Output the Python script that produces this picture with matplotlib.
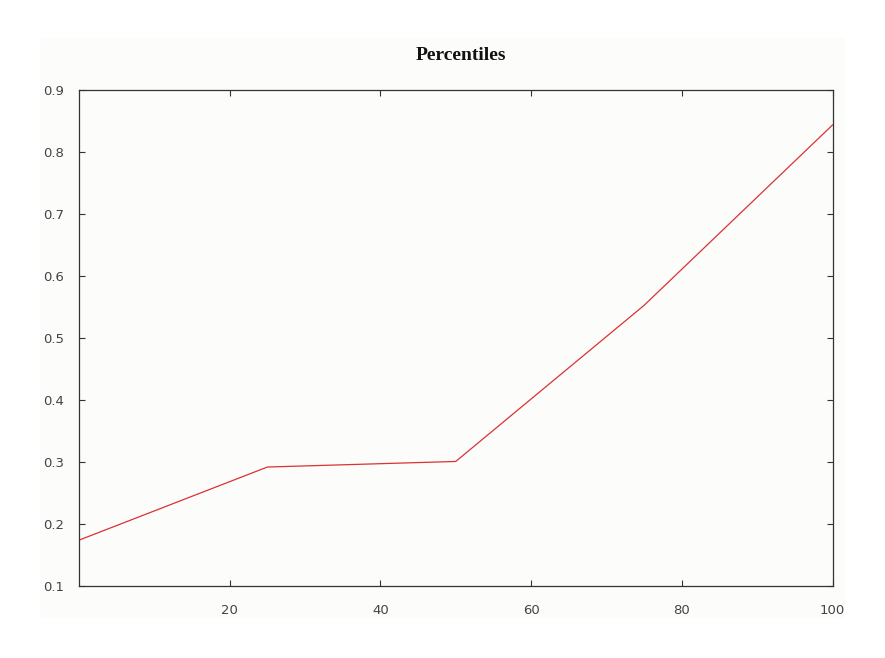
import matplotlib
matplotlib.use("Agg")
import matplotlib.pyplot as plt
from matplotlib.patches import Rectangle

# Values
percentiles = [0, 25, 50, 75, 100]
values = [0.174, 0.292, 0.301, 0.553, 0.844]
x_ticks = [20, 40, 60, 80, 100]
y_ticks = [0.1, 0.2, 0.3, 0.4, 0.5, 0.6, 0.7, 0.8, 0.9]

panel_color = "#fcfcfa"
axis_color = "#333333"

fig = plt.figure(figsize=(8.85, 6.58), dpi=100)
fig.patch.set_facecolor("white")

# Off-white panel behind the whole chart (drawn below the axes)
fig.patches.append(Rectangle((40 / 885, 1 - 618 / 658), 805 / 885, 580 / 658,
                             transform=fig.transFigure, facecolor=panel_color,
                             edgecolor="none", zorder=-1))

ax = fig.add_axes([79 / 885, 1 - 586 / 658, 753.5 / 885, 495.7 / 658])
ax.set_zorder(1)
ax.set_facecolor(panel_color)

ax.plot(percentiles, values, color="#d93333", linewidth=0.9)

ax.set_xlim(0, 100)
ax.set_ylim(0.1, 0.9)
ax.set_xticks(x_ticks)
ax.set_yticks(y_ticks)
ax.set_yticklabels(["%.1f" % v for v in y_ticks])

for spine in ax.spines.values():
    spine.set_color(axis_color)
    spine.set_linewidth(0.9)

ax.tick_params(direction="in", length=4.5, width=0.8, color=axis_color,
               top=True, right=True, labelsize=9.5, labelcolor="#444444")
ax.tick_params(axis="y", pad=11)
ax.tick_params(axis="x", pad=13)

# title sits slightly right of the axes centre in the reference
ax.set_title("Percentiles", family="Liberation Serif", fontweight="bold",
             fontsize=14, color="#111111", pad=22, x=0.507)

fig.savefig("out.png", dpi=100, facecolor=fig.get_facecolor())
